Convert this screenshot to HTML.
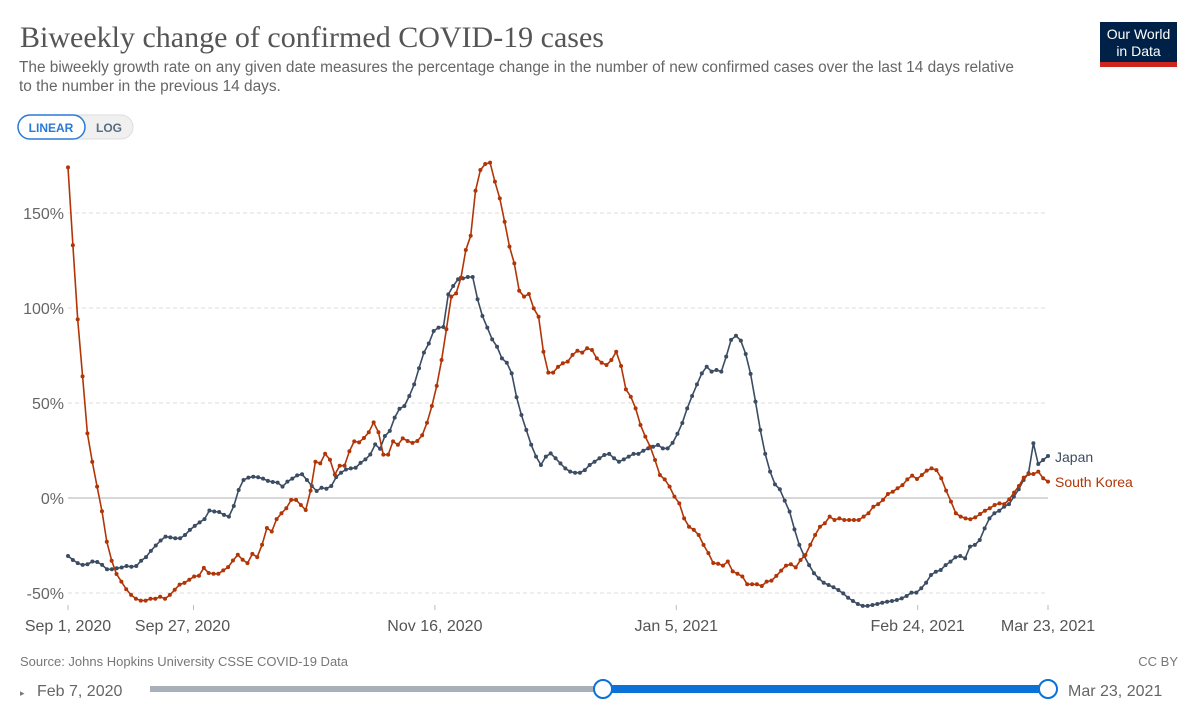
<!DOCTYPE html>
<html><head><meta charset="utf-8">
<style>
body{margin:0;background:#fff;width:1200px;height:712px;overflow:hidden;font-family:"Liberation Sans",sans-serif;}
svg text{font-family:"Liberation Sans",sans-serif;}
</style></head>
<body>
<svg id="chart" width="1200" height="712" viewBox="0 0 1200 712" xmlns="http://www.w3.org/2000/svg">
<rect x="0" y="0" width="1200" height="712" fill="#fff"/>
<text x="20" y="47" font-size="30" fill="#555" style="font-family:'Liberation Serif',serif">Biweekly change of confirmed COVID-19 cases</text>
<text x="19" y="72" font-size="15.4" fill="#666">The biweekly growth rate on any given date measures the percentage change in the number of new confirmed cases over the last 14 days relative</text>
<text x="19" y="91" font-size="15.4" fill="#666">to the number in the previous 14 days.</text>
<g>
<rect x="1100" y="22" width="77" height="45" fill="#002147"/>
<rect x="1100" y="62" width="77" height="5" fill="#ce261e"/>
<text x="1138.5" y="39" font-size="14" fill="#fff" text-anchor="middle">Our World</text>
<text x="1138.5" y="56" font-size="14" fill="#fff" text-anchor="middle">in Data</text>
</g>
<g>
<rect x="18" y="115" width="115" height="24" rx="12" fill="#f0f0f0" stroke="#ddd"/>
<rect x="18" y="115" width="67" height="24" rx="12" fill="#fff" stroke="#2a7ad6" stroke-width="1.5"/>
<text x="51" y="132" font-size="12" font-weight="bold" fill="#2a7ad6" text-anchor="middle">LINEAR</text>
<text x="109" y="132" font-size="12" font-weight="bold" fill="#5b6b80" text-anchor="middle">LOG</text>
</g>
<g id="grid"></g>
<g id="yaxis"></g>
<g id="xaxis"></g>
<g id="series"></g>
<text x="20" y="666" font-size="13" fill="#777">Source: Johns Hopkins University CSSE COVID-19 Data</text>
<text x="1178" y="666" font-size="13" fill="#777" text-anchor="end">CC BY</text>
<g>
<text x="20" y="696" font-size="9" fill="#777">▸</text>
<text x="37" y="696" font-size="16" fill="#666">Feb 7, 2020</text>
<rect x="150" y="686" width="453" height="6" fill="#a9b0ba"/>
<rect x="603" y="685" width="445" height="8" fill="#0a72d8"/>
<circle cx="603" cy="689" r="9" fill="#fff" stroke="#0a72d8" stroke-width="2"/>
<circle cx="1048" cy="689" r="9" fill="#fff" stroke="#0a72d8" stroke-width="2"/>
<text x="1068" y="696" font-size="16" fill="#666">Mar 23, 2021</text>
</g>
</svg>
<script>
const yTicks=[-50,0,50,100,150];
const yTickLabels=["-50%","0%","50%","100%","150%"];
const xTickDays=[0,26,76,126,176,203];
const xTickLabels=["Sep 1, 2020","Sep 27, 2020","Nov 16, 2020","Jan 5, 2021","Feb 24, 2021","Mar 23, 2021"];
const seriesNames=["Japan","South Korea"];
const japan=[-30.5,-32.6,-34.3,-35.2,-34.9,-33.4,-33.7,-35.2,-37.5,-37.5,-37,-36.6,-35.8,-36.2,-35.8,-33,-31.1,-27.8,-25,-22.4,-20.3,-20.7,-21.2,-21.2,-19.5,-16.8,-14.7,-12.8,-11.1,-6.6,-7.1,-7.4,-8.9,-9.8,-4.2,4.2,9.5,10.7,11.2,10.9,10.2,9,8.4,8.1,6,8.6,10.2,11.9,12.5,9.5,6.3,3.7,5.4,4.9,6.3,11,13.3,15,15.6,15.9,18.5,20.3,22.9,28.2,25.9,32.6,35.3,42.3,47,48.4,53.7,59.8,68.3,76.5,81.3,87.9,89.7,90,107.2,111.6,115.1,115.6,116.3,116.3,104.6,95.8,89.7,83.5,79.6,73.5,71.2,65.6,53,43.7,35.8,28,21.8,17.4,21.8,23.5,20.9,18.2,15.6,13.9,13.3,13.3,14.7,17.4,19.1,20.9,22.6,23.2,20.9,19.1,20.3,21.8,23.2,23.2,24.9,26.1,27,27.9,26.1,26.1,29,33.8,39.5,47.2,53.7,59.8,65.6,69.1,66.5,67.4,66.5,74.4,83.2,85.4,82.8,75.8,65.3,50.7,35.8,23.2,13.9,7.2,4.6,-1.4,-7.2,-16.5,-24.7,-30.5,-35.3,-39.6,-42.3,-44.6,-45.8,-47,-48.4,-50.2,-52.5,-54.2,-55.8,-56.8,-56.8,-56.3,-55.8,-55.1,-54.6,-54.2,-53.7,-52.8,-51.6,-49.8,-49.8,-47.5,-44.6,-40.5,-38.8,-37.9,-35.3,-33.5,-31.2,-30.5,-31.8,-25.6,-24.7,-22.1,-16,-10.7,-8,-6.7,-4.6,-3.2,0.7,4.6,9.5,13,28.8,17.9,20,22.1];
const southKorea=[174,133,94,64,34,19,6,-7,-23,-33,-40,-44,-48,-51,-53,-54,-54,-53,-53,-52,-53,-51,-48.3,-45.6,-44.7,-43,-41.3,-40.9,-36.8,-39.5,-39.9,-39.9,-38.1,-36.4,-32.9,-29.9,-32.5,-34.3,-29.4,-31.1,-24.6,-15.8,-17.6,-11.1,-8,-5.4,-1,-1,-3.7,-6.3,3.9,19.1,18.2,23.3,20.1,12.3,17,17,24.6,29.8,29.3,31.6,34.6,39.8,34.6,22.8,22.8,29.8,28,31.4,30,29,30,33,39.6,48.4,59,72.6,88.8,106,107.7,116,130.5,138,161.7,172.6,175.8,176.5,166.5,157.7,145.4,132.3,123.5,109.1,106,107.4,99.8,95.4,77,66,66,69,70.9,71.8,75.3,77.5,76.5,78.8,77.9,73.5,71.2,70,72.6,77,69.5,57.2,53.3,47.2,38.4,32.3,27,20,12.1,9.8,6,0.7,-2.8,-10.7,-15.1,-16.8,-19.5,-24.7,-29,-34.2,-34.6,-35.6,-33.4,-38.6,-39.9,-41.3,-45.4,-45.4,-45.4,-46.3,-44,-43.5,-41,-38.2,-35.6,-34.9,-36.5,-32.6,-30,-24.7,-19.5,-15.1,-13.3,-9.8,-11.6,-10.7,-11.6,-11.6,-11.6,-11.6,-9.8,-8,-4.6,-3.2,-1,2.1,3.3,5.1,6.8,9.8,11.8,10,12.1,14.4,15.6,14.7,10.4,3.9,-1.9,-8,-9.8,-10.7,-11.2,-10.2,-8.4,-6.7,-5.4,-3.7,-2.8,-3.2,-0.7,2.8,6.3,10.7,12.6,12.6,13.9,10.4,8.6];

const NS="http://www.w3.org/2000/svg";
const X0=68,X1=1048,SPAN=203;
function xDay(d){return X0+(X1-X0)*d/SPAN;}
function yVal(v){return 498-v*1.9;}
function mk(tag,attrs,parent){const e=document.createElementNS(NS,tag);for(const k in attrs)e.setAttribute(k,attrs[k]);parent.appendChild(e);return e;}
const grid=document.getElementById('grid'),ya=document.getElementById('yaxis'),xa=document.getElementById('xaxis'),ser=document.getElementById('series');
yTicks.forEach((t,i)=>{
  const l=mk('line',{x1:X0,x2:X1,y1:yVal(t),y2:yVal(t),stroke:t===0?'#ccc':'#ddd','stroke-width':t===0?1.5:1,'stroke-dasharray':t===0?'none':'4,3'},grid);
  
  
  const tx=mk('text',{x:64,y:yVal(t)+6,'font-size':16,fill:'#666','text-anchor':'end'},ya);
  tx.textContent=yTickLabels[i];
  
  
});
xTickDays.forEach((d,i)=>{
  const x=xDay(d);
  const tk=mk('line',{x1:x,x2:x,y1:605,y2:610,stroke:'#bbb'},xa);
  
  
  let lx=x; if(i===1) lx=x-11;
  const tx=mk('text',{x:lx,y:631,'font-size':16,fill:'#555','text-anchor':'middle'},xa);
  tx.textContent=xTickLabels[i];
  
  
});
function draw(vals,color,name,labelY){
  const n=vals.length;
  const pts=vals.map((v,i)=>[xDay(i*SPAN/(n-1)),yVal(v)]);
  const g=mk('g',{},ser);
  
  
  const p=mk('polyline',{points:pts.map(q=>q[0].toFixed(1)+','+q[1].toFixed(1)).join(' '),fill:'none',stroke:color,'stroke-width':1.6},g);
  
  
  pts.forEach(q=>{
    const c=mk('circle',{cx:q[0],cy:q[1],r:2,fill:color},g);
    
    
  });
  const t=mk('text',{x:1055,y:labelY,'font-size':14,fill:color},g);
  t.textContent=name==='japan'?seriesNames[0]:seriesNames[1];
  
  
}
draw(japan,'#3b4c63','japan',462);
draw(southKorea,'#b13507','south-korea',487);
</script>
</body></html>
